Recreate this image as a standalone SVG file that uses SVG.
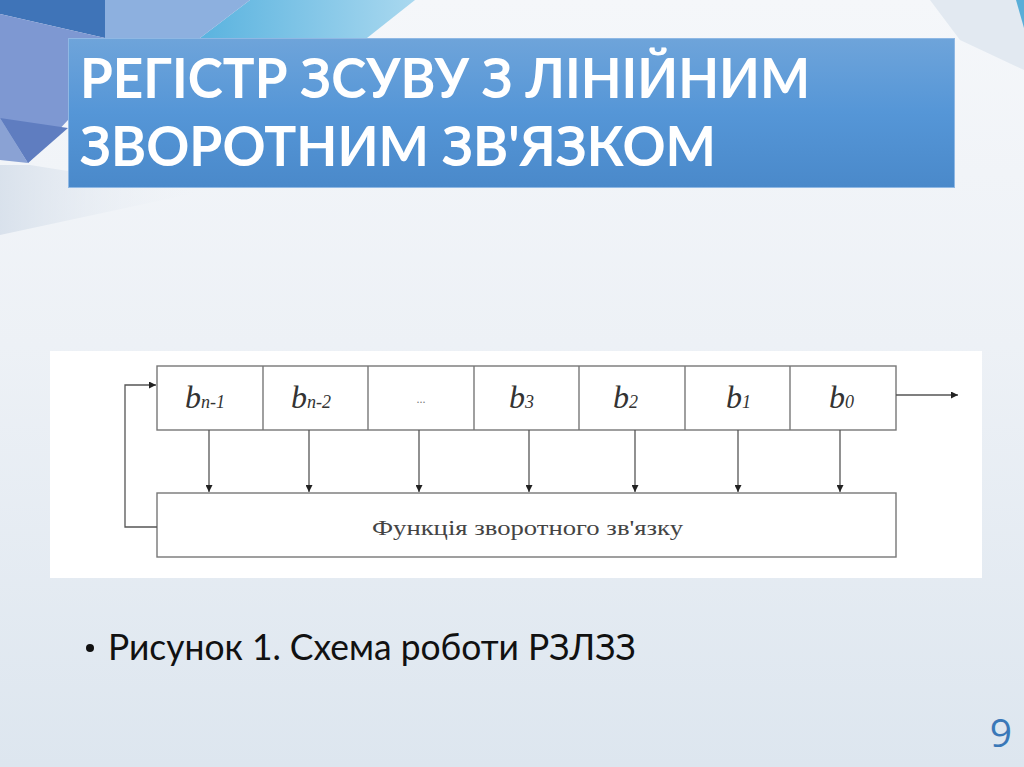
<svg xmlns="http://www.w3.org/2000/svg" width="1024" height="767" viewBox="0 0 1024 767">
<defs>
  <linearGradient id="bg" x1="0" y1="0" x2="0" y2="1">
    <stop offset="0" stop-color="#f5f7fa"/>
    <stop offset="0.45" stop-color="#edf1f6"/>
    <stop offset="1" stop-color="#dde6ef"/>
  </linearGradient>
  <linearGradient id="titleg" x1="0" y1="0" x2="0" y2="1">
    <stop offset="0" stop-color="#6ea4da"/>
    <stop offset="0.5" stop-color="#5596d7"/>
    <stop offset="1" stop-color="#4a89ca"/>
  </linearGradient>
  <linearGradient id="cyan" x1="0" y1="0" x2="1" y2="0">
    <stop offset="0" stop-color="#5ab3df"/>
    <stop offset="1" stop-color="#a9d8ef"/>
  </linearGradient>
  <linearGradient id="fade" x1="0" y1="0" x2="1" y2="0">
    <stop offset="0" stop-color="#d3dde9"/>
    <stop offset="1" stop-color="#edf1f6" stop-opacity="0"/>
  </linearGradient>
  <marker id="ah" viewBox="0 0 10 10" refX="10" refY="5" markerWidth="9" markerHeight="7" markerUnits="userSpaceOnUse" orient="auto">
    <path d="M0,0 L10,5 L0,10 z" fill="#222"/>
  </marker>
  <style>
    .title{font-family:Lato,"Open Sans","Liberation Sans",sans-serif;font-weight:bold;font-size:56px;fill:#ffffff}
    .cell{fill:none;stroke:#777;stroke-width:1.4}
    .lbl{font-family:"Liberation Serif","DejaVu Serif",serif;font-style:italic;font-size:32px;fill:#333}
    .sub{font-size:18px}
    .conn line,.conn polyline{stroke:#555;stroke-width:1.3;fill:none}
    .func{font-family:"Liberation Serif","DejaVu Serif",serif;font-size:20px;fill:#444}
    .body{font-family:Lato,"Open Sans","Liberation Sans",sans-serif;font-size:36px;fill:#111}
  </style>
</defs>

<!-- background -->
<rect x="0" y="0" width="1024" height="767" fill="url(#bg)"/>
<polygon points="0,165 30,165 200,192 0,235" fill="url(#fade)" opacity="0.8"/>
<!-- top-left facets -->
<polygon points="250,0 415,0 367,38 200,38" fill="url(#cyan)"/>
<polygon points="105,0 250,0 200,38 105,38" fill="#8db0df"/>
<polygon points="0,0 105,0 105,38 0,14" fill="#3f74b8"/>
<polygon points="0,14 105,38 68,38 68,120 28,163 0,120" fill="#7e98d2"/>
<polygon points="0,118 68,128 28,163" fill="#5f7dc0"/>
<polygon points="0,118 28,163 0,160" fill="#8aa2d4"/>
<!-- top-right facets -->
<polygon points="930,0 1024,0 1024,70 960,40" fill="#e2e9f1"/>
<polygon points="1016,0 1024,0 1024,28" fill="#5aaed8"/>

<!-- title -->
<g id="title">
  <rect x="68.5" y="38.5" width="886" height="149" fill="url(#titleg)" stroke="#8fb8e4" stroke-width="1"/>
  <text class="title" x="80" y="98" textLength="730" lengthAdjust="spacingAndGlyphs">РЕГІСТР ЗСУВУ З ЛІНІЙНИМ</text>
  <text class="title" x="80" y="166" textLength="636" lengthAdjust="spacingAndGlyphs">ЗВОРОТНИМ ЗВ'ЯЗКОМ</text>
</g>

<!-- diagram panel -->
<rect x="50" y="351" width="932" height="227" fill="#ffffff"/>

<g id="register">
  <rect class="cell" x="157" y="366" width="739" height="64"/>
  <line class="cell" x1="263" y1="366" x2="263" y2="430"/>
  <line class="cell" x1="368" y1="366" x2="368" y2="430"/>
  <line class="cell" x1="474" y1="366" x2="474" y2="430"/>
  <line class="cell" x1="579" y1="366" x2="579" y2="430"/>
  <line class="cell" x1="685" y1="366" x2="685" y2="430"/>
  <line class="cell" x1="790" y1="366" x2="790" y2="430"/>
</g>
<g id="cell-bn1"><text class="lbl" x="185" y="408">b<tspan class="sub">n-1</tspan></text></g>
<g id="cell-bn2"><text class="lbl" x="291" y="408">b<tspan class="sub">n-2</tspan></text></g>
<g id="cell-dots"><text x="421" y="403" text-anchor="middle" font-family="Liberation Serif, serif" font-size="12" fill="#777">...</text></g>
<g id="cell-b3"><text class="lbl" x="509" y="408">b<tspan class="sub">3</tspan></text></g>
<g id="cell-b2"><text class="lbl" x="613" y="408">b<tspan class="sub">2</tspan></text></g>
<g id="cell-b1"><text class="lbl" x="726" y="408">b<tspan class="sub">1</tspan></text></g>
<g id="cell-b0"><text class="lbl" x="829" y="408">b<tspan class="sub">0</tspan></text></g>

<g id="feedback-function">
  <rect class="cell" x="157" y="493" width="739" height="64"/>
  <text class="func" x="372" y="535" textLength="311" lengthAdjust="spacingAndGlyphs">Функція зворотного зв'язку</text>
</g>

<g id="connectors" class="conn">
  <line x1="209" y1="430" x2="209" y2="492" marker-end="url(#ah)"/>
  <line x1="309" y1="430" x2="309" y2="492" marker-end="url(#ah)"/>
  <line x1="419" y1="430" x2="419" y2="492" marker-end="url(#ah)"/>
  <line x1="529" y1="430" x2="529" y2="492" marker-end="url(#ah)"/>
  <line x1="635" y1="430" x2="635" y2="492" marker-end="url(#ah)"/>
  <line x1="738" y1="430" x2="738" y2="492" marker-end="url(#ah)"/>
  <line x1="840" y1="430" x2="840" y2="492" marker-end="url(#ah)"/>
  <polyline points="157,527 125,527 125,385 156,385" marker-end="url(#ah)"/>
  <line x1="896" y1="395" x2="958" y2="395" marker-end="url(#ah)"/>
</g>

<!-- caption -->
<g id="caption">
  <circle cx="90" cy="648" r="4" fill="#111"/>
  <text class="body" x="108" y="660" textLength="528" lengthAdjust="spacingAndGlyphs">Рисунок 1. Схема роботи РЗЛЗЗ</text>
</g>

<text x="1001" y="747" text-anchor="middle" font-family="Open Sans, Liberation Sans, sans-serif" font-size="39" fill="#3a78b8">9</text>
</svg>
